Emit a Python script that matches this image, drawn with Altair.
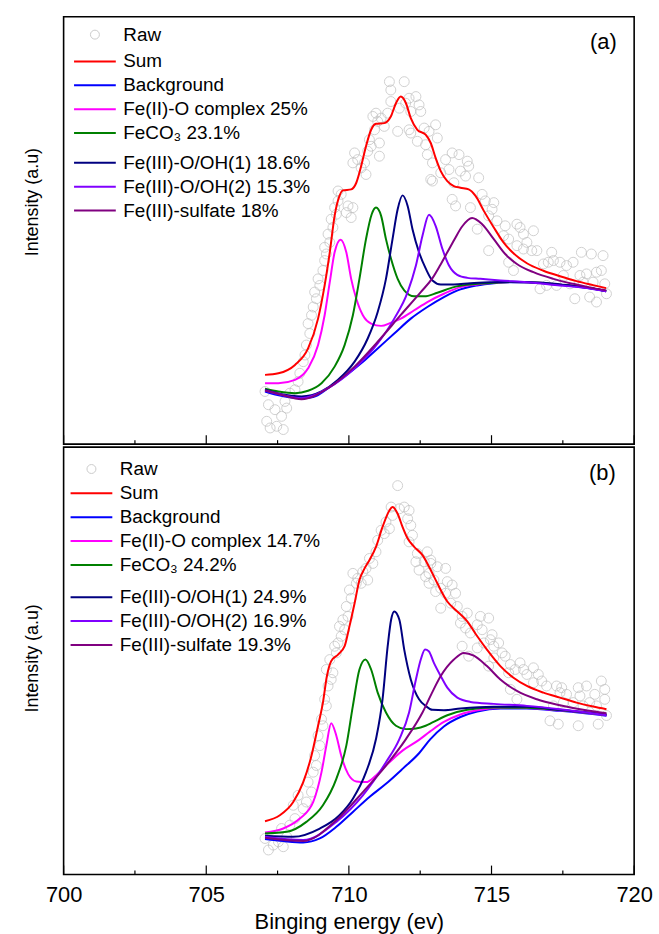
import altair as alt
import pandas as pd

FONT = "Liberation Sans"
W, H = 574, 430

# ---------------- panel (a) ----------------
A_RAW_E = [707.06, 707.12, 707.18, 707.24, 707.41, 707.47, 707.64, 707.7, 707.76, 707.82, 707.93, 708.11, 708.22,
           708.28, 708.4, 708.46, 708.51, 708.57, 708.63, 708.69, 708.75, 708.8, 708.86, 708.92, 708.98, 709.09,
           709.15, 709.15, 709.21, 709.27, 709.33, 709.38, 709.44, 709.5, 709.56, 709.62, 709.62, 709.73, 709.91,
           709.97, 710.08, 710.14, 710.14, 710.2, 710.31, 710.43, 710.55, 710.6, 710.66, 710.72, 710.78, 710.84,
           710.9, 710.95, 711.01, 711.07, 711.07, 711.13, 711.24, 711.36, 711.42, 711.47, 711.47, 711.71, 711.77,
           711.94, 711.99, 712.11, 712.11, 712.17, 712.17, 712.35, 712.4, 712.46, 712.52, 712.64, 712.69, 712.75,
           712.81, 712.87, 712.93, 712.93, 713.04, 713.1, 713.22, 713.39, 713.51, 713.62, 713.62, 713.68, 713.74,
           713.86, 713.91, 714.09, 714.15, 714.2, 714.26, 714.5, 714.55, 714.67, 714.78, 714.9, 714.9, 715.02,
           715.08, 715.19, 715.42, 715.48, 715.6, 715.6, 715.77, 715.89, 715.89, 716.0, 716.12, 716.12, 716.24,
           716.41, 716.47, 716.59, 716.7, 716.82, 716.93, 716.99, 717.11, 717.17, 717.28, 717.4, 717.52, 717.63,
           717.75, 717.86, 717.92, 718.1, 718.15, 718.21, 718.33, 718.44, 718.5, 718.56, 718.68, 718.68, 718.85,
           718.91, 718.97, 719.03]
A_RAW_I = [53.0, 23.0, 39.7, 16.3, 34.7, 18.0, 28.0, 14.7, 43.0, 36.3, 51.3, 54.7, 63.0,
           71.3, 83.0, 89.7, 99.7, 121.3, 111.3, 129.7, 138.0, 153.0, 146.3, 166.3, 159.7, 174.7,
           184.7, 198.0, 191.3, 211.3, 203.0, 226.3, 218.0, 238.0, 231.3, 244.7, 254.7, 251.3, 233.0,
           239.7, 228.0, 238.0, 283.0, 293.0, 286.3, 278.0, 283.0, 271.3, 294.7, 306.3, 299.7, 329.7,
           316.3, 333.0, 324.7, 289.7, 303.0, 328.0, 319.7, 333.0, 364.7, 344.7, 356.3, 314.7, 338.0,
           364.7, 343.0, 348.0, 316.3, 334.7, 313.0, 349.7, 304.7, 341.3, 334.7, 318.0, 301.3, 291.3,
           314.7, 266.3, 283.0, 264.7, 321.3, 308.0, 273.0, 286.3, 276.3, 293.0, 246.3, 263.0, 239.7,
           291.3, 274.7, 269.7, 284.7, 279.7, 238.0, 216.3, 268.0, 251.3, 244.7, 229.7, 194.7, 236.3,
           243.0, 224.7, 209.7, 219.7, 206.3, 183.0, 174.7, 221.3, 199.7, 218.0, 211.3, 196.3, 203.0,
           194.7, 214.7, 194.7, 156.3, 181.3, 159.7, 183.0, 193.0, 184.7, 159.7, 183.0, 169.7, 179.7,
           161.3, 183.0, 146.3, 169.7, 193.0, 163.0, 171.3, 148.0, 191.3, 163.0, 173.0, 143.0, 174.7,
           189.7, 161.3, 151.3]

A_SUM_E = [707.06, 707.53, 708.11, 708.57, 708.92, 709.15, 709.33, 709.5, 709.67, 709.79, 710.08, 710.26, 710.43,
           710.6, 710.78, 710.95, 711.24, 711.47, 711.65, 711.82, 712.0, 712.17, 712.4, 712.69, 712.87, 713.04,
           713.22, 713.45, 713.68, 713.91, 714.2, 714.44, 714.73, 715.08, 715.42, 715.77, 716.24, 716.82, 717.4,
           717.98, 718.56, 719.02]
A_SUM_I = [69.7, 71.3, 79.7, 96.3, 126.3, 159.7, 193.0, 229.7, 249.7, 255.3, 256.3, 263.0, 279.7,
           299.7, 316.3, 322.3, 323.0, 329.7, 343.0, 349.7, 343.0, 328.0, 316.3, 311.3, 303.0, 288.0,
           274.7, 264.7, 259.7, 258.0, 256.3, 249.7, 234.7, 218.0, 203.0, 192.0, 182.0, 174.5, 169.0,
           164.0, 160.0, 157.0]

A_BG_E = [707.06, 707.5, 708.0, 708.34, 708.75, 709.27, 709.85, 710.43, 711.01, 711.59, 712.17, 712.75, 713.33,
          713.91, 714.49, 715.08, 715.66, 716.24, 716.82, 717.4, 717.98, 718.56, 719.02]
A_BG_I = [53.0, 49.5, 47.0, 46.3, 47.5, 56.3, 68.0, 81.3, 96.3, 111.3, 126.3, 138.0, 148.0,
          155.7, 159.7, 162.0, 163.0, 162.7, 162.0, 160.3, 158.7, 156.3, 153.7]

A_FE2_E = [707.06, 707.53, 708.11, 708.57, 708.92, 709.15, 709.33, 709.5, 709.71, 709.91, 710.08, 710.26, 710.49,
           710.78, 711.13, 711.48, 711.82, 712.29, 712.75, 713.33, 713.91, 714.49, 715.08, 715.66, 716.24, 716.82,
           717.4, 717.98, 718.56, 719.02]
A_FE2_I = [61.3, 61.3, 64.7, 76.3, 99.7, 129.7, 163.0, 193.0, 205.7, 193.0, 166.3, 146.3, 129.7,
           121.3, 119.0, 122.3, 126.3, 134.7, 143.0, 151.3, 158.0, 160.7, 162.3, 163.2, 162.9, 162.2,
           160.5, 158.9, 156.5, 153.9]

A_CO3_E = [707.06, 707.53, 708.11, 708.57, 709.04, 709.5, 709.85, 710.14, 710.37, 710.6, 710.8, 710.95, 711.13,
           711.3, 711.48, 711.71, 711.94, 712.29, 712.64, 713.1, 713.68, 714.26, 715.08, 715.66, 716.24, 716.82,
           717.4, 717.98, 718.56, 719.02]
A_CO3_I = [55.7, 53.0, 51.3, 53.7, 61.3, 78.0, 99.7, 129.7, 166.3, 206.3, 231.3, 238.0, 229.7,
           206.3, 186.3, 166.3, 154.7, 148.7, 148.7, 152.3, 158.0, 160.7, 162.3, 163.2, 162.9, 162.2,
           160.5, 158.9, 156.5, 153.9]

A_OH1_E = [707.06, 707.6, 708.34, 709.04, 709.62, 710.2, 710.66, 711.01, 711.3, 711.53, 711.71, 711.88, 712.06,
           712.23, 712.46, 712.7, 712.93, 713.22, 713.68, 714.26, 715.08, 715.66, 716.24, 716.82, 717.4, 717.98,
           718.56, 719.02]
A_OH1_I = [54.7, 50.5, 48.0, 53.0, 64.7, 83.0, 106.3, 133.0, 166.3, 206.3, 236.3, 250.3, 239.7,
           216.3, 193.0, 176.3, 164.7, 160.7, 160.7, 162.0, 163.0, 163.5, 163.1, 162.4, 160.7, 159.0,
           156.6, 154.0]

A_OH2_E = [707.06, 707.6, 708.34, 709.27, 710.2, 711.01, 711.59, 712.06, 712.35, 712.58, 712.81, 713.04, 713.28,
           713.51, 713.8, 714.15, 714.61, 715.31, 716.24, 717.4, 718.2, 719.02]
A_OH2_I = [54.0, 50.0, 46.3, 56.3, 76.3, 101.3, 126.3, 153.0, 179.7, 209.7, 230.7, 219.7, 196.3,
           179.7, 170.3, 167.3, 166.3, 164.7, 163.0, 159.7, 157.5, 153.7]

A_SO4_E = [707.06, 707.6, 708.34, 709.27, 710.2, 711.01, 711.82, 712.52, 712.93, 713.2, 713.45, 713.7, 713.97,
           714.32, 714.67, 715.08, 715.48, 715.89, 716.47, 717.17, 717.86, 718.56, 719.02]
A_SO4_I = [54.0, 50.0, 45.3, 56.3, 78.0, 103.0, 130.0, 153.0, 167.0, 180.0, 193.0, 206.0, 219.0,
           227.5, 221.3, 206.3, 191.3, 181.3, 173.0, 166.3, 161.3, 157.0, 154.7]

A_LABELS = ["Sum", "Background", "Fe(II)-O complex 25%", "FeCO\u2083 23.1%",
            "Fe(III)-O/OH(1) 18.6%", "Fe(III)-O/OH(2) 15.3%", "Fe(III)-sulfate 18%"]

# ---------------- panel (b) ----------------
B_RAW_E = [707.06, 707.18, 707.35, 707.53, 707.64, 707.7, 707.82, 707.93, 708.05, 708.11, 708.22, 708.4, 708.51,
           708.57, 708.69, 708.75, 708.8, 708.86, 708.92, 708.98, 709.04, 709.09, 709.15, 709.21, 709.21, 709.27,
           709.33, 709.38, 709.44, 709.5, 709.56, 709.62, 709.67, 709.73, 709.79, 709.85, 709.91, 709.97, 710.02,
           710.08, 710.14, 710.26, 710.31, 710.43, 710.49, 710.6, 710.66, 710.72, 710.84, 710.95, 711.01, 711.13,
           711.24, 711.3, 711.42, 711.48, 711.53, 711.71, 711.77, 711.94, 712.06, 712.11, 712.11, 712.17, 712.23,
           712.35, 712.4, 712.46, 712.64, 712.69, 712.75, 712.81, 712.81, 712.87, 712.87, 712.98, 713.04, 713.1,
           713.22, 713.22, 713.39, 713.39, 713.45, 713.57, 713.62, 713.74, 713.8, 713.91, 713.97, 713.97, 714.09,
           714.15, 714.2, 714.26, 714.5, 714.5, 714.61, 714.67, 714.73, 714.9, 714.9, 714.96, 715.02, 715.08,
           715.08, 715.25, 715.37, 715.48, 715.6, 715.66, 715.66, 715.83, 715.89, 716.0, 716.12, 716.24, 716.47,
           716.47, 716.64, 716.76, 716.93, 717.05, 717.17, 717.28, 717.34, 717.4, 717.46, 717.52, 717.63, 717.86,
           718.04, 718.04, 718.1, 718.21, 718.33, 718.44, 718.62, 718.68, 718.74, 718.85, 718.97, 718.97, 719.03]
B_RAW_I = [36.3, 24.7, 29.7, 33.0, 46.3, 28.0, 38.0, 49.7, 69.7, 56.3, 79.7, 66.3, 73.0,
           93.0, 83.0, 103.0, 119.7, 109.7, 139.7, 129.7, 156.3, 149.7, 176.3, 169.7, 206.3, 189.7,
           216.3, 196.3, 203.0, 229.7, 223.0, 233.0, 249.7, 239.7, 256.3, 246.3, 269.7, 259.7, 286.3,
           278.0, 303.0, 293.0, 298.0, 293.0, 304.7, 308.0, 296.3, 318.0, 313.0, 324.7, 336.3, 346.3,
           343.0, 354.7, 348.0, 369.7, 361.3, 391.3, 368.0, 369.7, 358.0, 366.3, 334.7, 351.3, 341.3,
           314.7, 323.0, 306.3, 314.7, 299.7, 324.7, 293.0, 303.0, 316.3, 313.0, 296.3, 284.7, 309.7,
           288.0, 268.0, 308.0, 283.0, 294.7, 273.0, 291.3, 283.0, 269.7, 253.0, 259.7, 229.7, 248.0,
           263.0, 219.7, 243.0, 251.3, 228.0, 259.7, 246.3, 233.0, 258.0, 209.7, 236.3, 241.3, 229.7,
           218.0, 233.0, 223.0, 219.7, 203.0, 211.3, 186.3, 206.3, 176.3, 213.0, 206.3, 201.3, 208.0,
           193.0, 201.3, 194.7, 189.7, 154.7, 169.7, 189.7, 151.3, 183.0, 188.0, 173.0, 181.3, 173.0,
           188.0, 149.7, 179.7, 169.7, 189.7, 173.0, 181.3, 169.7, 151.3, 194.7, 186.3, 176.3, 160.0]

B_SUM_E = [707.06, 707.58, 708.05, 708.4, 708.69, 708.92, 709.09, 709.23, 709.38, 709.62, 709.85, 710.02, 710.2,
           710.37, 710.55, 710.72, 710.95, 711.18, 711.42, 711.53, 711.71, 711.88, 712.06, 712.29, 712.58, 712.81,
           713.1, 713.45, 713.8, 714.15, 714.5, 714.84, 715.31, 715.77, 716.24, 716.82, 717.4, 717.98, 718.56,
           719.03]
B_SUM_I = [53.7, 59.7, 73.0, 93.0, 119.7, 149.7, 173.0, 199.7, 214.7, 221.3, 229.7, 249.7, 273.0,
           296.3, 308.0, 316.3, 329.7, 349.7, 366.3, 369.7, 363.0, 349.7, 338.0, 329.7, 321.3, 309.7,
           293.0, 274.7, 264.7, 254.7, 239.7, 226.3, 209.7, 198.0, 189.7, 183.0, 178.0, 173.0, 169.0,
           166.3]

B_BG_E = [707.06, 707.7, 708.4, 708.98, 709.56, 710.14, 710.72, 711.3, 711.88, 712.46, 712.85, 713.33, 713.91,
          714.5, 715.31, 716.24, 717.4, 718.2, 719.03]
B_BG_I = [35.7, 33.7, 32.3, 36.3, 48.0, 63.0, 78.0, 91.3, 106.3, 122.0, 136.0, 149.0, 158.5,
          164.0, 167.0, 167.0, 164.7, 162.5, 159.7]

B_FE2_E = [707.06, 707.7, 708.28, 708.75, 709.04, 709.21, 709.38, 709.56, 709.73, 709.97, 710.26, 710.6, 710.95,
           711.3, 711.88, 712.46, 712.85, 713.33, 713.91, 714.5, 715.31, 716.24, 717.4, 718.2, 719.03]
B_FE2_I = [42.3, 46.3, 56.3, 73.0, 103.0, 129.7, 152.3, 139.7, 119.7, 101.3, 93.7, 93.0, 99.7,
           109.7, 124.7, 135.5, 144.0, 153.5, 161.0, 165.2, 167.5, 167.5, 165.2, 163.0, 160.2]

B_CO3_E = [707.06, 707.82, 708.51, 709.09, 709.56, 709.91, 710.14, 710.37, 710.58, 710.78, 711.01, 711.3, 711.65,
           712.0, 712.35, 712.69, 712.93, 713.45, 714.15, 715.08, 716.24, 717.4, 718.2, 719.03]
B_CO3_I = [41.3, 43.0, 53.0, 69.7, 96.3, 129.7, 169.7, 206.3, 216.3, 206.3, 183.0, 163.0, 149.7,
           146.3, 147.0, 149.7, 153.0, 160.3, 165.7, 168.0, 167.8, 165.5, 163.3, 160.5]

B_OH1_E = [707.06, 708.05, 708.98, 709.67, 710.14, 710.6, 710.95, 711.18, 711.36, 711.48, 711.59, 711.77, 711.94,
           712.17, 712.46, 712.69, 712.93, 713.33, 713.91, 715.08, 716.24, 717.4, 718.2, 719.03]
B_OH1_I = [39.0, 38.0, 46.3, 59.7, 76.3, 103.0, 136.3, 176.3, 229.7, 256.3, 264.7, 256.3, 226.3,
           196.3, 176.3, 169.7, 165.7, 165.3, 167.0, 168.7, 168.7, 165.7, 163.5, 161.3]

B_OH2_E = [707.06, 708.4, 709.56, 710.49, 711.3, 711.77, 712.11, 712.35, 712.52, 712.67, 712.8, 712.98, 713.22,
           713.45, 713.8, 714.26, 715.08, 716.24, 717.4, 718.2, 719.03]
B_OH2_I = [38.0, 34.7, 53.0, 79.7, 113.0, 136.3, 163.0, 196.3, 216.3, 226.3, 224.7, 213.0, 199.7,
           188.0, 178.0, 173.7, 171.7, 169.7, 166.3, 163.5, 160.3]

B_SO4_E = [707.06, 708.4, 709.56, 710.49, 711.3, 712.0, 712.58, 712.9, 713.22, 713.68, 714.03, 714.38, 714.84,
           715.31, 715.89, 716.59, 717.4, 718.21, 719.03]
B_SO4_I = [37.0, 33.7, 54.7, 83.0, 109.7, 136.3, 163.0, 182.0, 199.7, 216.3, 223.0, 220.3, 209.7,
           196.3, 184.7, 176.3, 170.3, 165.7, 162.3]

B_LABELS = ["Sum", "Background", "Fe(II)-O complex 14.7%", "FeCO\u2083 24.2%",
            "Fe(III)-O/OH(1) 24.9%", "Fe(III)-O/OH(2) 16.9%", "Fe(III)-sulfate 19.3%"]

COLORS = ["#ff0000", "#0000ff", "#ff00ff", "#008000", "#000080", "#8000ff", "#800080"]
MAJOR_TICKS = [700, 705, 710, 715, 720]
MINOR_TICKS = [702.5, 707.5, 712.5, 717.5]

LINE_SYMBOL = "M-5.25,0H5.25"


def long_df(pairs, labels):
    frames = []
    for (e, i), lab in zip(pairs, labels):
        frames.append(pd.DataFrame({"E": e, "I": i, "series": lab}))
    return pd.concat(frames, ignore_index=True)


def panel(raw_e, raw_i, pairs, labels, letter, letter_xy, leg_x, raw_y, g1_y, g2_y, bottom):
    xscale = alt.Scale(domain=[700, 720], nice=False, zero=False)
    yscale = alt.Scale(domain=[0, 430], nice=False, zero=False)
    if bottom:
        xaxis = alt.Axis(values=MAJOR_TICKS, format="d", labelFont=FONT, labelFontSize=22, labelColor="black",
                         labelFlush=False, labelPadding=10, ticks=False, domain=False, grid=False,
                         title="Binging energy (ev)", titleFont=FONT, titleFontSize=22,
                         titleFontWeight="normal", titleColor="black", titlePadding=6)
        ty = 212
    else:
        xaxis = None
        ty = 186
    yaxis = alt.Axis(labels=False, ticks=False, domain=False, grid=False, title="Intensity (a.u)",
                     titleFont=FONT, titleFontSize=18, titleFontWeight="normal", titleColor="black",
                     titlePadding=22, titleY=ty)
    x = alt.X("E:Q", scale=xscale, axis=xaxis)
    y = alt.Y("I:Q", scale=yscale, axis=yaxis)

    raw_df = pd.DataFrame({"E": raw_e, "I": raw_i, "kind": "Raw"})
    raw = alt.Chart(raw_df).mark_point(filled=False, size=100, strokeWidth=1, color="#bdbdbd").encode(
        x=x, y=y,
        shape=alt.Shape("kind:N", scale=alt.Scale(domain=["Raw"], range=["circle"]),
                        legend=alt.Legend(orient="none", legendX=leg_x, legendY=raw_y, title=None, padding=0,
                                          labelFont=FONT, labelFontSize=19, labelColor="black",
                                          labelOffset=19, symbolSize=81, symbolStrokeWidth=1,
                                          symbolStrokeColor="#b5b5b5", symbolFillColor="transparent")))

    g1 = long_df(pairs[:4], labels[:4])
    g2 = long_df(pairs[4:], labels[4:])
    leg_common = dict(orient="none", legendX=leg_x, title=None, padding=0, labelFont=FONT, labelFontSize=19,
                      labelColor="black", labelOffset=19, rowPadding=4, symbolType=LINE_SYMBOL,
                      symbolSize=64, symbolStrokeWidth=2, labelLimit=0)
    lines1 = alt.Chart(g1).mark_line(strokeWidth=2, interpolate="monotone").encode(
        x=x, y=y,
        color=alt.Color("series:N", scale=alt.Scale(domain=labels[:4], range=COLORS[:4]),
                        legend=alt.Legend(legendY=g1_y, **leg_common)))
    lines2 = alt.Chart(g2).mark_line(strokeWidth=2, interpolate="monotone").encode(
        x=x, y=y,
        stroke=alt.Stroke("series:N", scale=alt.Scale(domain=labels[4:], range=COLORS[4:]),
                          legend=alt.Legend(legendY=g2_y, **leg_common)))

    major = alt.Chart(pd.DataFrame({"E": MAJOR_TICKS})).mark_rule(color="black", strokeWidth=1.2).encode(
        x=alt.X("E:Q", scale=xscale), y=alt.value(H - 9), y2=alt.value(H))
    minor = alt.Chart(pd.DataFrame({"E": MINOR_TICKS})).mark_rule(color="black", strokeWidth=1.2).encode(
        x=alt.X("E:Q", scale=xscale), y=alt.value(H - 4), y2=alt.value(H))
    lab = alt.Chart(pd.DataFrame({"t": [letter]})).mark_text(font=FONT, fontSize=22, color="black",
                                                             align="center", baseline="middle").encode(
        text="t:N", x=alt.value(letter_xy[0]), y=alt.value(letter_xy[1]))

    return alt.layer(raw, lines1, lines2, major, minor, lab).properties(width=W, height=H)


pairs_a = [(A_SUM_E, A_SUM_I), (A_BG_E, A_BG_I), (A_FE2_E, A_FE2_I), (A_CO3_E, A_CO3_I),
           (A_OH1_E, A_OH1_I), (A_OH2_E, A_OH2_I), (A_SO4_E, A_SO4_I)]
pairs_b = [(B_SUM_E, B_SUM_I), (B_BG_E, B_BG_I), (B_FE2_E, B_FE2_I), (B_CO3_E, B_CO3_I),
           (B_OH1_E, B_OH1_I), (B_OH2_E, B_OH2_I), (B_SO4_E, B_SO4_I)]

top = panel(A_RAW_E, A_RAW_I, pairs_a, A_LABELS, "(a)", (543, 25), 22, 8.5, 35.5, 137.5, False)
bot = panel(B_RAW_E, B_RAW_I, pairs_b, B_LABELS, "(b)", (542, 26), 18.5, 12.5, 37.0, 141.5, True)

chart = alt.vconcat(top, bot, spacing=0).resolve_scale(
    color="independent", stroke="independent", shape="independent"
).properties(padding={"left": 23, "top": 13, "right": 5, "bottom": 5}).configure_view(
    stroke="black", strokeWidth=1.6
)

chart.save("out.html", embed_options={"renderer": "svg", "actions": False})
